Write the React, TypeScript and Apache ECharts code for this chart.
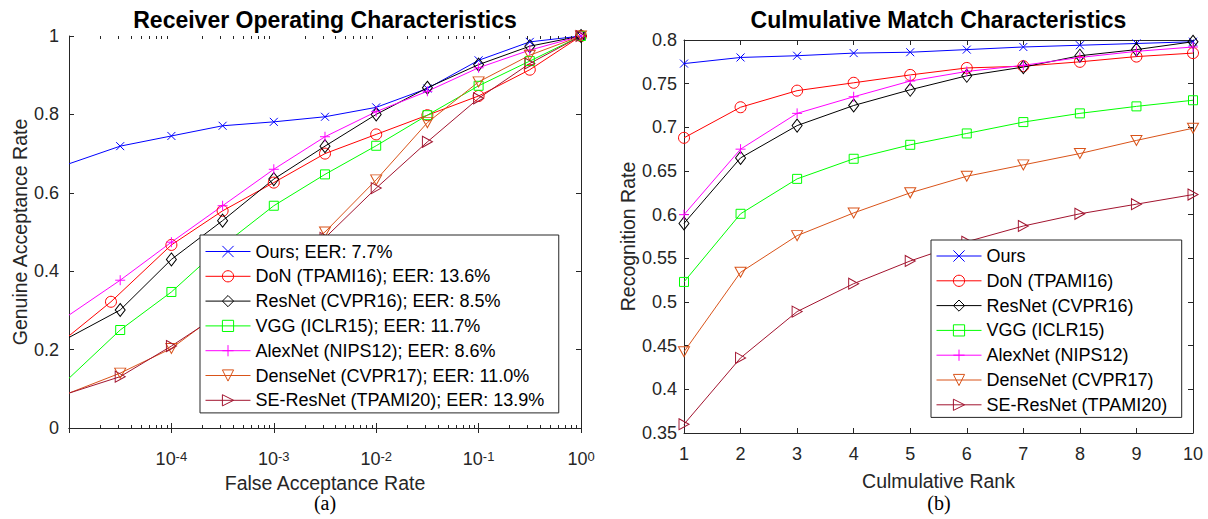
import React, { useEffect, useRef } from "react";
import * as echarts from "echarts";

// ---------- data ----------
const FAR = [1e-5, 3.162e-5, 1e-4, 3.162e-4, 1e-3, 3.162e-3, 1e-2, 3.162e-2, 1e-1, 3.162e-1, 1];
const FAR_DON = [1e-5, 2.57e-5, 1e-4, 3.162e-4, 1e-3, 3.162e-3, 1e-2, 3.162e-2, 1e-1, 3.162e-1, 1];

const ROC_OURS = [0.674, 0.719, 0.745, 0.771, 0.781, 0.794, 0.818, 0.866, 0.938, 0.985, 1.0];
const ROC_DON = [0.235, 0.322, 0.467, 0.554, 0.626, 0.7, 0.749, 0.798, 0.847, 0.914, 1.0];
const ROC_RESNET = [0.231, 0.301, 0.43, 0.529, 0.635, 0.719, 0.8, 0.868, 0.927, 0.974, 1.0];
const ROC_VGG = [0.127, 0.25, 0.347, 0.465, 0.567, 0.647, 0.72, 0.798, 0.873, 0.936, 1.0];
const ROC_ALEXNET = [0.288, 0.377, 0.474, 0.567, 0.66, 0.743, 0.807, 0.859, 0.919, 0.964, 1.0];
const ROC_DENSENET = [0.089, 0.14, 0.203, 0.3, 0.4, 0.5, 0.633, 0.779, 0.883, 0.951, 1.0];
const ROC_SERESNET = [0.089, 0.131, 0.209, 0.295, 0.385, 0.485, 0.612, 0.73, 0.841, 0.93, 1.0];

const RANKS = [1, 2, 3, 4, 5, 6, 7, 8, 9, 10];
const CMC_OURS = [0.773, 0.78, 0.782, 0.785, 0.786, 0.789, 0.792, 0.794, 0.796, 0.798];
const CMC_DON = [0.688, 0.723, 0.742, 0.751, 0.76, 0.768, 0.77, 0.775, 0.781, 0.785];
const CMC_RESNET = [0.59, 0.665, 0.702, 0.725, 0.743, 0.759, 0.769, 0.782, 0.789, 0.798];
const CMC_VGG = [0.523, 0.601, 0.641, 0.664, 0.68, 0.693, 0.706, 0.716, 0.724, 0.731];
const CMC_ALEXNET = [0.6, 0.675, 0.716, 0.735, 0.753, 0.764, 0.771, 0.78, 0.787, 0.792];
const CMC_DENSENET = [0.443, 0.534, 0.576, 0.602, 0.625, 0.644, 0.657, 0.67, 0.685, 0.699];
const CMC_SERESNET = [0.36, 0.436, 0.489, 0.521, 0.547, 0.569, 0.587, 0.601, 0.612, 0.623];

const ROC_NAMES = [
  "Ours; EER: 7.7%",
  "DoN (TPAMI16); EER: 13.6%",
  "ResNet (CVPR16); EER: 8.5%",
  "VGG (ICLR15); EER: 11.7%",
  "AlexNet (NIPS12); EER: 8.6%",
  "DenseNet (CVPR17); EER: 11.0%",
  "SE-ResNet (TPAMI20); EER: 13.9%",
];
const CMC_NAMES = [
  "Ours",
  "DoN (TPAMI16)",
  "ResNet (CVPR16)",
  "VGG (ICLR15)",
  "AlexNet (NIPS12)",
  "DenseNet (CVPR17)",
  "SE-ResNet (TPAMI20)",
];

const ROC_X = [FAR, FAR_DON, FAR, FAR, FAR, FAR, FAR];
const ROC_Y = [ROC_OURS, ROC_DON, ROC_RESNET, ROC_VGG, ROC_ALEXNET, ROC_DENSENET, ROC_SERESNET];
const CMC_Y = [CMC_OURS, CMC_DON, CMC_RESNET, CMC_VGG, CMC_ALEXNET, CMC_DENSENET, CMC_SERESNET];

// ---------- styles ----------
const FONT = "'Liberation Sans', Arial, Helvetica, sans-serif";
const SERIF = "'Liberation Serif', 'Times New Roman', serif";
const AX = "#262626";

const STYLES: { color: string; symbol: string; size: number | number[] }[] = [
  { color: "#0000FF", symbol: "path://M0,0L10,10M10,0L0,10", size: 8 },
  { color: "#FF0000", symbol: "circle", size: 11 },
  { color: "#000000", symbol: "path://M5,0L10,6.5L5,13L0,6.5Z", size: [10, 13] },
  { color: "#00FF00", symbol: "rect", size: 9 },
  { color: "#FF00FF", symbol: "path://M5,0L5,10M0,5L10,5", size: 10 },
  { color: "#D95319", symbol: "path://M0,0L10,0L5,8.7Z", size: [11, 10] },
  { color: "#A2142F", symbol: "path://M0,0L8.7,5L0,10Z", size: [10, 11] },
];

function lineSeries(name: string, data: any[], k: number, xi: number, yi: number) {
  const s = STYLES[k];
  return {
    type: "line",
    name,
    xAxisIndex: xi,
    yAxisIndex: yi,
    data,
    symbol: s.symbol,
    symbolSize: s.size,
    showSymbol: true,
    lineStyle: { color: s.color, width: 1 },
    itemStyle: { color: "rgba(0,0,0,0)", borderColor: s.color, borderWidth: 1 },
    emphasis: { disabled: true },
    silent: true,
    z: 2,
  };
}

const tickLabel = { fontFamily: FONT, fontSize: 18, color: AX };
const nameStyle = { fontFamily: FONT, fontSize: 19.5, lineHeight: 20, color: AX };

function legendCfg(names: string[], left: number, top: number, padTop: number) {
  return {
    orient: "vertical",
    left,
    top,
    z: 10,
    data: names,
    itemWidth: 45,
    itemHeight: 14,
    itemGap: 4.8,
    padding: [padTop, 14.5, 2.6, 5],
    backgroundColor: "#ffffff",
    borderColor: AX,
    borderWidth: 1,
    borderRadius: 0,
    selectedMode: false,
    itemStyle: { borderWidth: 1 },
    lineStyle: { width: 1 },
    textStyle: { fontFamily: FONT, fontSize: 18, lineHeight: 20, color: "#000" },
  };
}

const textEls = [
  {
    type: "text",
    x: 325,
    y: 20,
    style: {
      text: "Receiver Operating Characteristics",
      fontFamily: FONT,
      fontSize: 23,
      fontWeight: "bold",
      fill: "#000",
      align: "center",
      verticalAlign: "middle",
    },
  },
  {
    type: "text",
    x: 938.5,
    y: 20,
    style: {
      text: "Culmulative Match Characteristics",
      fontFamily: FONT,
      fontSize: 23,
      fontWeight: "bold",
      fill: "#000",
      align: "center",
      verticalAlign: "middle",
    },
  },
  {
    type: "text",
    x: 325,
    y: 503,
    style: { text: "(a)", fontFamily: SERIF, fontSize: 20, fill: "#000", align: "center", verticalAlign: "middle" },
  },
  {
    type: "text",
    x: 939,
    y: 503,
    style: { text: "(b)", fontFamily: SERIF, fontSize: 20, fill: "#000", align: "center", verticalAlign: "middle" },
  },
];

export default function App() {
  const ref = useRef<HTMLDivElement>(null);
  useEffect(() => {
    const chart = echarts.init(ref.current!, undefined, { renderer: "svg" });

    const rocSeries = ROC_Y.map((ys, k) =>
      lineSeries(
        ROC_NAMES[k],
        ys.map((y, i) => (i === 0 ? { value: [ROC_X[k][i], y], symbol: "none" } : [ROC_X[k][i], y])),
        k,
        0,
        0
      )
    );
    const cmcSeries = CMC_Y.map((ys, k) =>
      lineSeries(CMC_NAMES[k], ys.map((y, i) => [RANKS[i], y]), k, 2, 2)
    );

    const tickIn = { show: true, inside: true, length: 5, lineStyle: { color: AX, width: 1 } };
    const axLine = { show: true, lineStyle: { color: AX, width: 1 } };

    chart.setOption({
      animation: false,
      backgroundColor: "#ffffff",
      grid: [
        { left: 69, top: 36, width: 512, height: 392 },
        { left: 684, top: 40, width: 509, height: 393 },
      ],
      xAxis: [
        {
          gridIndex: 0,
          type: "log",
          logBase: 10,
          min: 1e-5,
          max: 1,
          position: "bottom",
          axisLine: axLine,
          axisTick: tickIn,
          splitLine: { show: false },
          name: "False Acceptance Rate",
          nameLocation: "middle",
          nameGap: 43,
          nameTextStyle: nameStyle,
          axisLabel: {
            margin: 22,
            formatter: (v: number) => {
              const e = Math.round(Math.log10(v));
              if (e <= -5) return "";
              return `{b|10}{s|${e}}`;
            },
            rich: {
              b: { fontFamily: FONT, fontSize: 18, color: AX, lineHeight: 18, padding: [5, 0, 0, 0], verticalAlign: "bottom" },
              s: { fontFamily: FONT, fontSize: 13, color: AX, lineHeight: 13, verticalAlign: "top" },
            },
          },
        },
        {
          gridIndex: 0,
          type: "log",
          logBase: 10,
          min: 1e-5,
          max: 1,
          position: "top",
          axisLine: axLine,
          axisTick: tickIn,
          axisLabel: { show: false },
          splitLine: { show: false },
        },
        {
          gridIndex: 1,
          type: "value",
          min: 1,
          max: 10,
          interval: 1,
          position: "bottom",
          axisLine: axLine,
          axisTick: tickIn,
          splitLine: { show: false },
          axisLabel: { ...tickLabel, margin: 12 },
          name: "Culmulative Rank",
          nameLocation: "middle",
          nameGap: 38,
          nameTextStyle: nameStyle,
        },
        {
          gridIndex: 1,
          type: "value",
          min: 1,
          max: 10,
          interval: 1,
          position: "top",
          axisLine: axLine,
          axisTick: tickIn,
          axisLabel: { show: false },
          splitLine: { show: false },
        },
      ],
      yAxis: [
        {
          gridIndex: 0,
          type: "value",
          min: 0,
          max: 1,
          interval: 0.2,
          position: "left",
          axisLine: axLine,
          axisTick: tickIn,
          splitLine: { show: false },
          axisLabel: { ...tickLabel, margin: 10 },
          name: "Genuine Acceptance Rate",
          nameLocation: "middle",
          nameGap: 39,
          nameTextStyle: nameStyle,
        },
        {
          gridIndex: 0,
          type: "value",
          min: 0,
          max: 1,
          interval: 0.2,
          position: "right",
          axisLine: axLine,
          axisTick: tickIn,
          axisLabel: { show: false },
          splitLine: { show: false },
        },
        {
          gridIndex: 1,
          type: "value",
          min: 0.35,
          max: 0.8,
          interval: 0.05,
          position: "left",
          axisLine: axLine,
          axisTick: tickIn,
          splitLine: { show: false },
          axisLabel: { ...tickLabel, margin: 7 },
          name: "Recognition Rate",
          nameLocation: "middle",
          nameGap: 45,
          nameTextStyle: nameStyle,
        },
        {
          gridIndex: 1,
          type: "value",
          min: 0.35,
          max: 0.8,
          interval: 0.05,
          position: "right",
          axisLine: axLine,
          axisTick: tickIn,
          axisLabel: { show: false },
          splitLine: { show: false },
        },
      ],
      legend: [legendCfg(ROC_NAMES, 200, 235, 6.5), legendCfg(CMC_NAMES, 931, 240, 6)],
      graphic: textEls,
      series: [...rocSeries, ...cmcSeries],
    });

    // minor ticks of the logarithmic axis, placed through the axis' own scale
    const yBottom = chart.convertToPixel({ yAxisIndex: 0 }, 0) as number;
    const yTop = chart.convertToPixel({ yAxisIndex: 0 }, 1) as number;
    const minorEls: any[] = [];
    for (let d = -5; d < 0; d++) {
      for (let k = 2; k <= 9; k++) {
        const v = k * Math.pow(10, d);
        const px = Math.round(chart.convertToPixel({ xAxisIndex: 0 }, v) as number) + 0.5;
        minorEls.push({
          type: "line",
          silent: true,
          z: 5,
          shape: { x1: px, y1: Math.round(yBottom), x2: px, y2: Math.round(yBottom) - 3 },
          style: { stroke: AX, lineWidth: 1 },
        });
        minorEls.push({
          type: "line",
          silent: true,
          z: 5,
          shape: { x1: px, y1: Math.round(yTop), x2: px, y2: Math.round(yTop) + 3 },
          style: { stroke: AX, lineWidth: 1 },
        });
      }
    }
    chart.setOption({ graphic: [...textEls, ...minorEls] });

    return () => chart.dispose();
  }, []);
  return (
    <div
      ref={ref}
      style={{ position: "fixed", left: 0, top: 0, width: 1208, height: 519, background: "#fff" }}
    />
  );
}
